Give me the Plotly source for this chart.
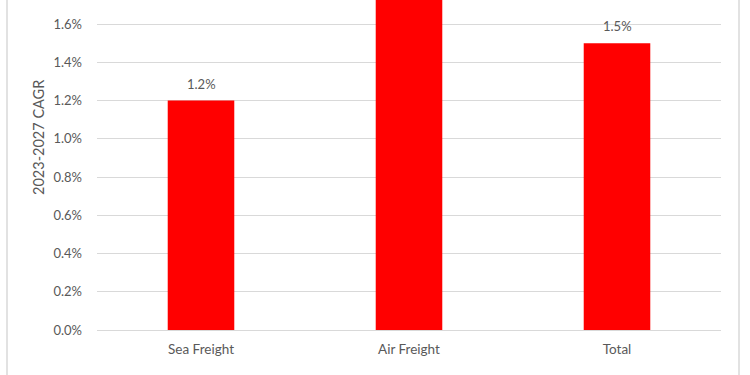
import plotly.graph_objects as go

categories = ["Sea Freight", "Air Freight", "Total"]
cagr = [0.012, 0.019, 0.015]
tick_vals = [0.0, 0.002, 0.004, 0.006, 0.008, 0.010, 0.012, 0.014, 0.016]
y_title = "2023-2027 CAGR"

L, R, T, B = 97, 29, 0, 45
W, H = 750, 375
plot_w = W - L - R
plot_h = H - T - B
y_max = 0.017255

FONT = "Lato, 'Open Sans', sans-serif"
GRAY = "#595959"

fig = go.Figure(go.Bar(
    x=categories, y=cagr,
    marker=dict(color="#ff0000", line=dict(width=0)),
    cliponaxis=True,
    width=0.32,
    hoverinfo="x+y",
))

annotations = [dict(
    text=y_title, textangle=-90, xref="paper", yref="paper",
    x=(38 - L) / plot_w, y=(H - B - 138) / plot_h, showarrow=False,
    xanchor="center", yanchor="middle",
    font=dict(family=FONT, size=14.5, color=GRAY),
)]
# value labels above bars (only those whose bar top lies inside the visible range)
for c, v in zip(categories, cagr):
    if v < y_max:
        annotations.append(dict(
            x=c, y=v, xref="x", yref="y", text=f"{v*100:.1f}%",
            showarrow=False, yanchor="bottom", yshift=7,
            font=dict(family=FONT, size=13, color=GRAY),
        ))

grid = "#d9d9d9"
fig.update_layout(
    width=W, height=H,
    margin=dict(l=L, r=R, t=T, b=B),
    plot_bgcolor="white", paper_bgcolor="white",
    showlegend=False,
    font=dict(family=FONT, size=13, color=GRAY),
    xaxis=dict(showgrid=False, showline=False, ticks="", tickfont=dict(size=13.5, color=GRAY),
               ticklabelstandoff=9),
    yaxis=dict(range=[0, y_max], tickvals=tick_vals, tickformat=".1%",
               showgrid=True, gridcolor=grid, gridwidth=1, zeroline=True, zerolinecolor=grid,
               zerolinewidth=1, showline=False, ticks="", ticklabelstandoff=14,
               tickfont=dict(size=13, color=GRAY)),
    annotations=annotations,
    shapes=[
        dict(type="line", xref="paper", yref="paper",
             x0=(7 - L) / plot_w, x1=(7 - L) / plot_w, y0=-1, y1=2,
             line=dict(color="#d9d9d9", width=1.5)),
        dict(type="line", xref="paper", yref="paper",
             x0=(739 - L) / plot_w, x1=(739 - L) / plot_w, y0=-1, y1=2,
             line=dict(color="#d9d9d9", width=1.5)),
    ],
)

fig.write_html("out.html")
